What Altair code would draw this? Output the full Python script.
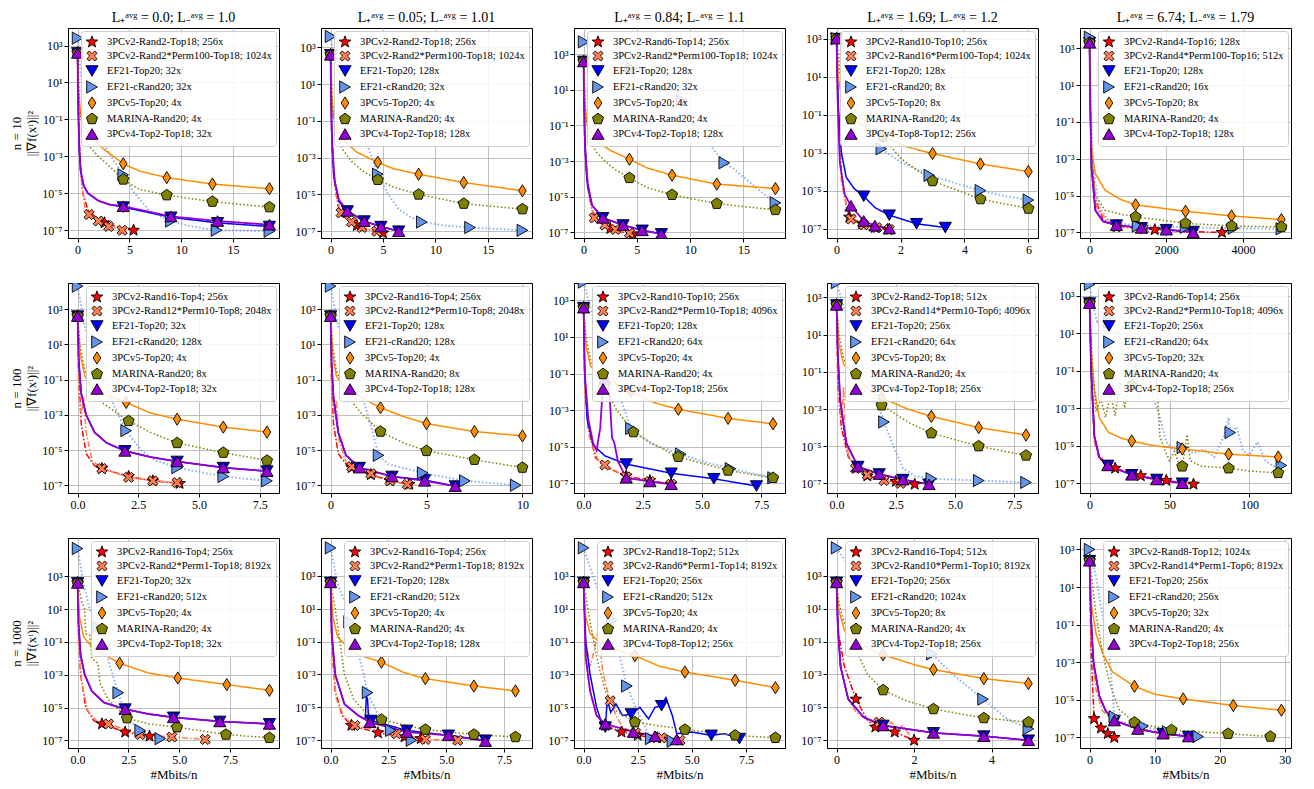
import altair as alt
import pandas as pd
import numpy as np

FONT = "Liberation Serif"
COLORS = ["#ff0000", "#ff7f50", "#0000ff", "#6495ed", "#ff8c00", "#808000", "#9400d3"]
STYLES = ["dashdot", "dashdot", "solid", "dotted", "solid", "dotted", "solid"]
WIDTHS = [1.5, 1.5, 1.5, 2.0, 1.5, 1.5, 1.8]
OPAC = [1, 1, 1, 0.75, 1, 1, 1]
N_ROWS = ["10", "100", "1000"]
L_PLUS = ["0.0", "0.05", "0.84", "1.69", "6.74"]
L_MINUS = ["1.0", "1.01", "1.1", "1.2", "1.79"]

# ---- legends ----
LEG_R1 = [
    ["3PCv2-Rand2-Top18; 256x", "3PCv2-Rand2*Perm100-Top18; 1024x", "EF21-Top20; 32x", "EF21-cRand20; 32x", "3PCv5-Top20; 4x", "MARINA-Rand20; 4x", "3PCv4-Top2-Top18; 32x"],
    ["3PCv2-Rand2-Top18; 256x", "3PCv2-Rand2*Perm100-Top18; 1024x", "EF21-Top20; 128x", "EF21-cRand20; 32x", "3PCv5-Top20; 4x", "MARINA-Rand20; 4x", "3PCv4-Top2-Top18; 128x"],
    ["3PCv2-Rand6-Top14; 256x", "3PCv2-Rand2*Perm100-Top18; 1024x", "EF21-Top20; 128x", "EF21-cRand20; 32x", "3PCv5-Top20; 4x", "MARINA-Rand20; 4x", "3PCv4-Top2-Top18; 128x"],
    ["3PCv2-Rand10-Top10; 256x", "3PCv2-Rand16*Perm100-Top4; 1024x", "EF21-Top20; 128x", "EF21-cRand20; 8x", "3PCv5-Top20; 8x", "MARINA-Rand20; 4x", "3PCv4-Top8-Top12; 256x"],
    ["3PCv2-Rand4-Top16; 128x", "3PCv2-Rand4*Perm100-Top16; 512x", "EF21-Top20; 128x", "EF21-cRand20; 16x", "3PCv5-Top20; 8x", "MARINA-Rand20; 4x", "3PCv4-Top2-Top18; 128x"],
]
LEG_R2 = [
    ["3PCv2-Rand16-Top4; 256x", "3PCv2-Rand12*Perm10-Top8; 2048x", "EF21-Top20; 32x", "EF21-cRand20; 128x", "3PCv5-Top20; 4x", "MARINA-Rand20; 8x", "3PCv4-Top2-Top18; 32x"],
    ["3PCv2-Rand16-Top4; 256x", "3PCv2-Rand12*Perm10-Top8; 2048x", "EF21-Top20; 128x", "EF21-cRand20; 128x", "3PCv5-Top20; 4x", "MARINA-Rand20; 8x", "3PCv4-Top2-Top18; 128x"],
    ["3PCv2-Rand10-Top10; 256x", "3PCv2-Rand2*Perm10-Top18; 4096x", "EF21-Top20; 128x", "EF21-cRand20; 64x", "3PCv5-Top20; 4x", "MARINA-Rand20; 4x", "3PCv4-Top2-Top18; 256x"],
    ["3PCv2-Rand2-Top18; 512x", "3PCv2-Rand14*Perm10-Top6; 4096x", "EF21-Top20; 256x", "EF21-cRand20; 64x", "3PCv5-Top20; 8x", "MARINA-Rand20; 4x", "3PCv4-Top2-Top18; 256x"],
    ["3PCv2-Rand6-Top14; 256x", "3PCv2-Rand2*Perm10-Top18; 4096x", "EF21-Top20; 256x", "EF21-cRand20; 64x", "3PCv5-Top20; 32x", "MARINA-Rand20; 4x", "3PCv4-Top2-Top18; 256x"],
]
LEG_R3 = [
    ["3PCv2-Rand16-Top4; 256x", "3PCv2-Rand2*Perm1-Top18; 8192x", "EF21-Top20; 32x", "EF21-cRand20; 512x", "3PCv5-Top20; 4x", "MARINA-Rand20; 4x", "3PCv4-Top2-Top18; 32x"],
    ["3PCv2-Rand16-Top4; 256x", "3PCv2-Rand2*Perm1-Top18; 8192x", "EF21-Top20; 128x", "EF21-cRand20; 512x", "3PCv5-Top20; 4x", "MARINA-Rand20; 4x", "3PCv4-Top2-Top18; 128x"],
    ["3PCv2-Rand18-Top2; 512x", "3PCv2-Rand6*Perm1-Top14; 8192x", "EF21-Top20; 256x", "EF21-cRand20; 512x", "3PCv5-Top20; 4x", "MARINA-Rand20; 4x", "3PCv4-Top8-Top12; 256x"],
    ["3PCv2-Rand16-Top4; 512x", "3PCv2-Rand10*Perm1-Top10; 8192x", "EF21-Top20; 256x", "EF21-cRand20; 1024x", "3PCv5-Top20; 8x", "MARINA-Rand20; 4x", "3PCv4-Top2-Top18; 256x"],
    ["3PCv2-Rand8-Top12; 1024x", "3PCv2-Rand14*Perm1-Top6; 8192x", "EF21-Top20; 256x", "EF21-cRand20; 256x", "3PCv5-Top20; 32x", "MARINA-Rand20; 4x", "3PCv4-Top2-Top18; 256x"],
]

# ---- axes per panel ----
XMAX = [18.5, 18.3, 18.0, 6.0, 5000, 7.9, 10.0, 8.1, 8.1, 120, 9.44, 8.3, 8.86, 4.95, 29.5]
XTICKS = [[0, 5, 10, 15], [0, 5, 10, 15], [0, 5, 10, 15], [0, 2, 4, 6], [0, 2000, 4000],
          [0, 2.5, 5, 7.5], [0, 5, 10], [0, 2.5, 5, 7.5], [0, 2.5, 5, 7.5], [0, 50, 100],
          [0, 2.5, 5, 7.5], [0, 2.5, 5, 7.5], [0, 2.5, 5, 7.5], [0, 2, 4], [0, 10, 20, 30]]
XFMT = ["d", "d", "d", "d", "d", ".1f", "d", ".1f", ".1f", "d", ".1f", ".1f", ".1f", "d", "d"]
YDOM = [[-7.42, 3.95], [-7.37, 4.06], [-7.33, 4.48], [-7.5, 3.56], [-7.3, 4.1],
        [-7.44, 4.48], [-7.44, 4.48], [-7.53, 3.95], [-7.52, 3.78], [-7.52, 3.67],
        [-7.47, 5.34], [-7.47, 5.3], [-7.47, 5.3], [-7.47, 5.3], [-7.56, 3.61]]
YTICKS = [1e3, 1e1, 1e-1, 1e-3, 1e-5, 1e-7]

# ---- series: [x, log10(y)] ; a third element 1 marks a marker point ----
# order: red 3PCv2, coral 3PCv2-Perm, EF21, EF21-cRand, 3PCv5, MARINA, 3PCv4
P11 = [
    [[0, 2.6, 1], [0.1, -1], [0.25, -3.5], [0.5, -5], [1, -5.9], [1.8, -6.3], [2.6, -6.6, 1], [4, -6.85], [5.4, -7.0, 1]],
    [[0, 2.6, 1], [0.15, -2], [0.4, -4.5], [0.7, -5.7], [1.1, -6.15, 1], [2.0, -6.5, 1], [3.0, -6.8, 1], [4.3, -7.0, 1]],
    [[0, 2.6, 1], [0.05, 0], [0.15, -2.5], [0.3, -3.8], [0.6, -4.6], [1, -5.0], [2, -5.4], [3, -5.6], [4.4, -5.75, 1], [9, -6.3, 1], [13.5, -6.6, 1], [18.5, -6.8, 1]],
    [[0, 3.4, 1], [0.3, 1.5], [0.7, 0.2], [1.2, -0.8], [2, -1.8], [3, -2.8], [4.4, -4.0, 1], [5.5, -5.0], [7, -6.0], [9, -6.5, 1], [11, -6.8], [13.4, -7.0, 1], [18.5, -7.05, 1]],
    [[0, 2.6, 1], [0.1, 0.5], [0.3, -0.8], [0.8, -1.6], [1.5, -2.1], [2.5, -2.6], [4.4, -3.4, 1], [6, -3.8], [8.6, -4.15, 1], [13, -4.5, 1], [18.5, -4.75, 1]],
    [[0, 2.6, 1], [0.2, -0.5], [0.6, -1.8], [1.2, -2.5], [2, -3.0], [3, -3.5], [4.4, -4.25, 1], [6, -4.8], [8.6, -5.1, 1], [13, -5.45, 1], [18.5, -5.75, 1]],
    [[0, 2.6, 1], [0.05, 0], [0.15, -2.5], [0.3, -3.8], [0.6, -4.6], [1, -5.0], [2, -5.4], [3, -5.6], [4.4, -5.7, 1], [9, -6.25, 1], [13.5, -6.5, 1], [18.5, -6.7, 1]],
]
P12 = [
    [[0, 2.6, 1], [0.1, -1.5], [0.3, -4], [0.7, -5.6], [1.2, -6.2], [2.5, -6.7, 1], [3.8, -6.95], [5, -7.1, 1]],
    [[0, 2.6, 1], [0.15, -2], [0.5, -5], [1.0, -6.0, 1], [2.0, -6.5, 1], [3.0, -6.8, 1], [4.4, -7.0, 1]],
    [[0, 2.6, 1], [0.1, -1.5], [0.3, -4], [0.8, -5.4], [1.6, -5.9, 1], [3.2, -6.45, 1], [4.8, -6.75, 1], [6.5, -7.0, 1]],
    [[0, 3.6, 1], [0.3, 2.5], [0.8, 1.5], [1.5, 0.5], [2.5, -0.8], [3.5, -2.3], [4.5, -3.9, 1], [5.5, -5], [6.5, -5.8], [7.5, -6.2], [8.7, -6.5, 1], [11, -6.7], [13.3, -6.8, 1], [18.3, -6.95, 1]],
    [[0, 2.6, 1], [0.1, 0.5], [0.3, -0.8], [0.8, -1.6], [1.5, -2.2], [2.5, -2.7], [4.5, -3.25, 1], [6, -3.6], [8.4, -3.9, 1], [12.7, -4.35, 1], [18.3, -4.8, 1]],
    [[0, 2.6, 1], [0.2, -0.5], [0.6, -1.8], [1.2, -2.6], [2, -3.2], [3, -3.7], [4.5, -4.2, 1], [6, -4.6], [8.4, -5.0, 1], [12.7, -5.5, 1], [18.3, -5.8, 1]],
    [[0, 2.6, 1], [0.05, 0], [0.15, -2.5], [0.4, -4.3], [0.8, -5.3], [1.6, -5.9, 1], [3.2, -6.45, 1], [4.8, -6.75, 1], [6.5, -7.0, 1]],
]
P13 = [
    [[0, 2.6, 1], [0.1, -1.5], [0.3, -4], [0.8, -5.8], [1.5, -6.4], [2.5, -6.8, 1], [3.7, -7.0], [4.6, -7.1, 1]],
    [[0, 2.6, 1], [0.15, -2], [0.5, -5], [1.0, -6.2, 1], [2.0, -6.6, 1], [3.0, -6.85, 1], [4.3, -7.05, 1]],
    [[0, 2.6, 1], [0.1, -1.5], [0.3, -4], [0.8, -5.5], [1.8, -6.2, 1], [3.7, -6.6, 1], [5.5, -6.9, 1], [7.3, -7.1, 1]],
    [[0, 3.7, 1], [1, 3.2], [2.5, 2.8], [4.5, 2.2, 1], [6, 1.8], [7.5, 1.0], [9.2, 0.4, 1], [10, -0.5], [11, -1.5], [11.5, -1.2], [12, -2.2], [13.2, -3.1, 1], [14, -3.4], [15, -3.9], [16, -4.4], [17, -4.9], [18, -5.35, 1]],
    [[0, 2.6, 1], [0.1, 0.5], [0.3, -0.8], [0.8, -1.5], [1.5, -2.0], [2.5, -2.4], [4.3, -2.9, 1], [6, -3.4], [8.3, -3.8, 1], [12.5, -4.3, 1], [18, -4.55, 1]],
    [[0, 2.6, 1], [0.2, -0.5], [0.6, -1.8], [1.2, -2.5], [2, -3.0], [3, -3.5], [4.3, -3.95, 1], [6, -4.5], [8.3, -4.9, 1], [12.5, -5.4, 1], [18, -5.75, 1]],
    [[0, 2.6, 1], [0.05, 0], [0.15, -2.5], [0.4, -4.5], [0.8, -5.5], [1.8, -6.2, 1], [3.7, -6.6, 1], [5.5, -6.9, 1], [7.3, -7.1, 1]],
]
P14 = [
    [[0, 3.0, 1], [0.05, -1], [0.15, -4], [0.3, -5.8], [0.4, -6.4, 1], [0.8, -6.75, 1], [1.2, -6.95, 1], [1.6, -7.05, 1]],
    [[0, 3.0, 1], [0.05, -1.5], [0.15, -4.5], [0.35, -6.2], [0.45, -6.5, 1], [0.85, -6.8, 1], [1.25, -6.95, 1], [1.65, -7.05, 1]],
    [[0, 3.0, 1], [0.05, -0.5], [0.15, -3], [0.3, -4.3], [0.55, -4.9], [0.85, -5.3, 1], [1.2, -5.9], [1.65, -6.3, 1], [2.5, -6.75, 1], [3.4, -6.95, 1]],
    [[0, 3.0, 1], [0.1, 1.8], [0.3, 0.3], [0.6, -0.8], [1.0, -1.8], [1.4, -2.8, 1], [2, -3.5], [2.9, -4.2, 1], [3.7, -4.6], [4.5, -5.0, 1], [5.3, -5.3], [6.0, -5.5, 1]],
    [[0, 3.0, 1], [0.05, 1], [0.2, -0.5], [0.5, -1.2], [1, -1.8], [1.45, -2.15, 1], [2.2, -2.7], [3.0, -3.05, 1], [4.5, -3.6, 1], [6.0, -4.0, 1]],
    [[0, 3.0, 1], [0.1, 1.2], [0.3, 0], [0.6, -0.8], [1, -1.5], [1.45, -2.15, 1], [2, -3.3], [3.0, -4.5, 1], [3.8, -5.0], [4.5, -5.45, 1], [6.0, -5.95, 1]],
    [[0, 3.0, 1], [0.03, 0], [0.1, -3.5], [0.25, -5.2], [0.45, -5.8, 1], [0.85, -6.6, 1], [1.2, -6.85, 1], [1.65, -7.0, 1]],
]
P15 = [
    [[0, 3.3, 1], [20, 0], [60, -3], [150, -5.2], [350, -6.3], [700, -6.65], [1700, -6.85, 1], [2600, -6.95], [3450, -7.0, 1]],
    [[0, 3.3, 1], [20, -0.5], [70, -3.5], [200, -5.8], [700, -6.7, 1], [1400, -6.8, 1], [2000, -6.85, 1], [2700, -7.0, 1]],
    [[0, 3.3, 1], [15, 0], [50, -3.5], [150, -5.8], [350, -6.4], [700, -6.6, 1], [1350, -6.75, 1], [2000, -6.85, 1], [2700, -6.95, 1]],
    [[0, 3.6, 1], [30, 0], [100, -3.5], [250, -5.6], [500, -6.4], [1250, -6.65, 1], [2500, -6.72, 1], [3750, -6.77, 1], [5000, -6.8, 1]],
    [[0, 3.3, 1], [10, 1], [50, -2.5], [150, -3.8], [400, -4.7], [800, -5.2], [1200, -5.5, 1], [2500, -5.85, 1], [3700, -6.1, 1], [5000, -6.3, 1]],
    [[0, 3.3, 1], [10, 0.5], [50, -3], [150, -5], [400, -5.8], [800, -6.0], [1200, -6.15, 1], [2500, -6.5, 1], [3700, -6.65, 1], [5000, -6.7, 1]],
    [[0, 3.3, 1], [15, 0], [50, -3.5], [150, -5.8], [350, -6.4], [700, -6.6, 1], [1350, -6.75, 1], [2000, -6.85, 1], [2700, -7.0, 1]],
]
P21 = [
    [[0, 2.6, 1], [0.05, -1], [0.15, -3.5], [0.35, -5.2], [0.7, -5.9], [1.0, -6.05, 1], [2.1, -6.5, 1], [3.1, -6.75, 1], [4.2, -6.9, 1]],
    [[0, 2.6, 1], [0.05, -2], [0.15, -3], [0.25, -2], [0.35, -4], [0.6, -5.6], [1.0, -6.05, 1], [2.1, -6.55, 1], [3.1, -6.75, 1], [4.1, -6.85, 1]],
    [[0, 2.6, 1], [0.05, 0], [0.15, -1.8], [0.35, -3], [0.7, -4.0], [1.2, -4.6], [1.95, -5.05, 1], [3, -5.4], [4.1, -5.65, 1], [6.0, -6.0, 1], [7.8, -6.2, 1]],
    [[0, 4.3, 1], [0.3, 2], [0.7, 0.3], [1.1, -1.0], [1.5, -2.5], [2.0, -3.9, 1], [2.6, -5.0], [3.2, -5.6], [4.1, -6.0, 1], [6.0, -6.5, 1], [7.8, -6.75, 1]],
    [[0, 2.6, 1], [0.1, 0.5], [0.3, -0.8], [0.6, -1.4], [1.0, -1.8], [2.0, -2.3, 1], [3, -2.9], [4.1, -3.25, 1], [6.0, -3.7, 1], [7.8, -3.98, 1]],
    [[0, 2.6, 1], [0.1, 1.0], [0.3, -0.5], [0.6, -1.5], [1.0, -2.3], [2.1, -3.35, 1], [3, -4.0], [4.1, -4.6, 1], [6.0, -5.15, 1], [7.8, -5.6, 1]],
    [[0, 2.6, 1], [0.05, 0], [0.15, -1.8], [0.35, -3], [0.7, -4.0], [1.2, -4.6], [1.95, -5.05, 1], [3, -5.4], [4.1, -5.65, 1], [6.0, -6.0, 1], [7.8, -6.2, 1]],
]
P22 = [
    [[0, 2.6, 1], [0.05, -1], [0.15, -3.5], [0.4, -5.2], [0.8, -5.8], [1.1, -6.0, 1], [2.1, -6.4, 1], [3.1, -6.75, 1], [4.1, -6.95, 1]],
    [[0, 2.6, 1], [0.05, -2], [0.2, -3], [0.3, -2.2], [0.45, -4.5], [0.8, -5.7], [1.1, -5.95, 1], [2.1, -6.35, 1], [3.1, -6.75, 1], [4.0, -6.95, 1], [4.5, -7.0]],
    [[0, 2.6, 1], [0.05, 0], [0.15, -2], [0.4, -4], [0.8, -5.3], [1.5, -6.0, 1], [3.2, -6.5, 1], [4.9, -6.7, 1], [6.5, -7.05, 1]],
    [[0, 4.3, 1], [0.4, 2], [0.9, 0.5], [1.4, -1.0], [1.8, -2.5], [2.2, -4.0], [2.5, -5.3, 1], [3, -5.8], [4.8, -6.3, 1], [7.0, -6.75, 1], [9.65, -7.0, 1]],
    [[0, 2.6, 1], [0.1, 0.5], [0.3, -0.8], [0.7, -1.4], [1.2, -1.8], [2.6, -2.6, 1], [3.8, -3.1], [5.0, -3.5, 1], [7.5, -3.95, 1], [10, -4.2, 1]],
    [[0, 2.6, 1], [0.1, 1.0], [0.3, -0.5], [0.8, -1.8], [1.5, -2.8], [2.6, -3.95, 1], [3.8, -4.6], [5.0, -5.05, 1], [7.5, -5.55, 1], [10, -6.0, 1]],
    [[0, 2.6, 1], [0.05, 0], [0.15, -2], [0.4, -4], [0.8, -5.3], [1.5, -6.0, 1], [3.2, -6.5, 1], [4.9, -6.75, 1], [6.5, -7.05, 1]],
]
P23 = [
    [[0, 2.6, 1], [0.05, -1.5], [0.2, -4], [0.5, -5.6], [0.9, -6.1], [1.8, -6.6, 1], [2.8, -6.85, 1], [3.7, -7.05, 1]],
    [[0, 2.6, 1], [0.05, -2], [0.25, -4.5], [0.6, -5.7], [0.9, -6.0, 1], [1.8, -6.65, 1], [2.8, -6.9, 1], [3.7, -7.05, 1]],
    [[0, 2.6, 1], [0.05, -1], [0.15, -3.5], [0.4, -4.9], [0.9, -5.5], [1.8, -5.95, 1], [3.7, -6.45, 1], [5.5, -6.75, 1], [7.3, -7.15, 1]],
    [[0, 4.0, 1], [0.3, 2.5], [0.7, 1], [1.2, -1], [1.6, -2.5], [2.0, -4.0, 1], [2.8, -4.8], [4.1, -5.4, 1], [5, -5.8], [6.2, -6.2, 1], [8.0, -6.7, 1]],
    [[0, 2.6, 1], [0.1, 0.5], [0.3, -0.6], [0.8, -1.3], [1.3, -1.5], [2.0, -1.95, 1], [3, -2.6], [4.0, -2.95, 1], [6.1, -3.45, 1], [8.0, -3.75, 1]],
    [[0, 2.6, 1], [0.1, 1.0], [0.3, -0.3], [0.8, -1.5], [1.4, -3], [2.1, -4.2, 1], [3, -4.9], [4.0, -5.55, 1], [6.1, -6.3, 1], [8.0, -6.7, 1]],
    [[0, 2.6, 1], [0.05, -1], [0.2, -3.5], [0.4, -4.8], [0.55, -5.2], [0.7, -4], [0.8, -2], [0.9, -1.3, 1], [1.0, -1.0], [1.1, -2.2], [1.2, -4.5], [1.3, -4.8], [1.45, -5.8], [1.8, -6.7, 1], [2.8, -6.9, 1], [3.7, -7.05, 1]],
]
P24 = [
    [[0, 2.6, 1], [0.05, -1.5], [0.2, -4], [0.5, -5.6], [0.9, -6.1], [1.3, -6.6, 1], [2.5, -6.9, 1], [3.3, -7.05, 1]],
    [[0, 2.6, 1], [0.1, -2.5], [0.2, -3.5], [0.3, -1.8], [0.35, -4], [0.5, -5.5], [0.8, -6.2, 1], [1.3, -6.55, 1], [2.0, -6.85, 1], [2.7, -7.0, 1]],
    [[0, 2.6, 1], [0.05, 0], [0.15, -2.5], [0.4, -4.8], [0.9, -6.1, 1], [1.8, -6.5, 1], [2.8, -6.8, 1], [3.9, -7.05, 1]],
    [[0, 3.8, 1], [0.3, 2.5], [0.7, 1], [1.2, -1], [1.6, -2.2], [2.0, -3.7, 1], [2.4, -5.0], [2.8, -6.2], [3.3, -6.6], [4.0, -6.75, 1], [6.0, -6.85, 1], [8.0, -6.95, 1]],
    [[0, 2.6, 1], [0.1, 0.5], [0.3, -0.6], [0.8, -1.3], [1.3, -1.9], [1.9, -2.4, 1], [3, -3.0], [4.0, -3.4, 1], [6.0, -4.0, 1], [8.0, -4.4, 1]],
    [[0, 2.6, 1], [0.1, 1.0], [0.3, -0.3], [0.8, -1.5], [1.3, -2.2], [1.9, -2.8, 1], [3, -3.7], [4.0, -4.3, 1], [6.0, -5.0, 1], [8.0, -5.5, 1]],
    [[0, 2.6, 1], [0.05, 0], [0.15, -2.5], [0.4, -4.8], [0.9, -6.1, 1], [1.8, -6.5, 1], [2.8, -6.8, 1], [3.9, -7.05, 1]],
]
P25 = [
    [[0, 2.6, 1], [1, -1], [3, -4.5], [6, -5.6], [16, -6.2, 1], [32, -6.6, 1], [48, -6.85, 1], [65, -7.05, 1]],
    [[0, 2.6, 1], [1, -1.5], [3, -4.8], [6, -5.7], [11.4, -6.05, 1], [26.4, -6.55, 1], [42, -6.8, 1], [58, -7.0, 1], [63, -7.05]],
    [[0, 2.6, 1], [1, -1], [3, -4.5], [6, -5.6], [11.4, -6.05, 1], [26.4, -6.55, 1], [42, -6.8, 1], [58, -7.0, 1]],
    [[0, 3.6, 1], [2, 2.5], [5, 1.5], [8, 2.2], [10, 1.0], [12, 1.6, 1], [15, 0.5], [18, 1.2], [21, -0.5], [24, 0.3], [27, -1.0], [30, -0.3], [33, -1.5], [36, -0.8], [40, -2.5], [44, -3.5], [48, -4.8], [52, -5.2], [58, -5.1, 1], [65, -5.4], [72, -5.2], [78, -5.6], [84, -4.5], [87, -3.5], [88, -4.3, 1], [92, -4.0], [96, -5.3], [100, -5.5], [105, -4.8], [110, -5.8], [115, -6.1], [120, -6.05, 1]],
    [[0, 2.6, 1], [1, 0], [3, -2], [6, -3.5], [12, -4.3], [20, -4.6], [26.4, -4.75, 1], [40, -5.0], [58, -5.17, 1], [87, -5.45, 1], [118, -5.6, 1]],
    [[0, 2.6, 1], [2, -1], [4, -3.2], [7, -2.5], [10, -3.5], [13, -2.2], [16, -3.4], [19, -1.5], [22, -3.0], [25, -1.2], [26.4, -1.8, 1], [29, -0.6], [31, -2.5], [34, -1.5], [37, -0.9], [39, -2.2], [42, -1.5], [44, -4.5], [47, -5.2], [50, -5.8], [53, -5.3], [56, -6.0], [58, -6.1, 1], [61, -4.4], [63, -5.8], [70, -6.1], [80, -6.15], [87, -6.2, 1], [100, -6.35], [118, -6.45, 1]],
    [[0, 2.6, 1], [1, -1], [3, -4.5], [6, -5.6], [11.4, -6.05, 1], [26.4, -6.55, 1], [42, -6.8, 1], [58, -7.0, 1]],
]
P31 = [
    [[0, 2.6, 1], [0.05, -0.5], [0.15, -3], [0.4, -5], [0.8, -5.8], [1.2, -6.0, 1], [2.34, -6.5, 1], [3.54, -6.75, 1], [4.0, -6.9]],
    [[0, 2.6, 1], [0.05, -1], [0.2, -3.5], [0.5, -5.2], [1.0, -5.9], [1.52, -6.0, 1], [3.08, -6.65, 1], [4.64, -6.8, 1], [6.28, -6.95, 1]],
    [[0, 2.6, 1], [0.05, 0], [0.15, -1.8], [0.35, -3], [0.7, -4.0], [1.3, -4.7], [2.34, -5.1, 1], [3.5, -5.4], [4.72, -5.6, 1], [7.0, -5.85, 1], [9.44, -6.0, 1]],
    [[0, 4.7, 1], [0.3, 2.5], [0.6, 1.0], [0.95, -0.1, 1], [1.3, -1.2], [1.6, -2.5], [2.0, -4.1, 1], [2.4, -5.6], [3.08, -6.4, 1], [4.07, -6.9, 1]],
    [[0, 2.6, 1], [0.1, 0.5], [0.3, -0.7], [0.7, -1.3], [1.2, -1.7], [2.07, -2.3, 1], [3.5, -2.9], [4.93, -3.2, 1], [7.34, -3.6, 1], [9.44, -3.95, 1]],
    [[0, 2.6, 1], [0.2, 1.5], [0.35, 1.0], [0.4, -0.5], [0.6, -0.6], [0.7, -2.0], [1.0, -2.3], [1.1, -3.5], [1.5, -4.5], [2.43, -5.65, 1], [3.5, -6.0], [4.89, -6.2, 1], [7.3, -6.65, 1], [9.44, -6.85, 1]],
    [[0, 2.6, 1], [0.05, 0], [0.15, -1.8], [0.35, -3], [0.7, -4.0], [1.3, -4.7], [2.34, -5.1, 1], [3.5, -5.4], [4.72, -5.6, 1], [7.0, -5.85, 1], [9.44, -6.0, 1]],
]
P32 = [
    [[0, 2.6, 1], [0.05, -1], [0.2, -4], [0.5, -5.5], [0.9, -6.1, 1], [2.05, -6.55, 1], [3.2, -6.8, 1], [3.9, -6.9, 1]],
    [[0, 2.6, 1], [0.05, -1.5], [0.25, -4.5], [0.6, -5.6], [1.05, -6.1, 1], [2.85, -6.6, 1], [4.1, -6.95, 1], [5.5, -7.0, 1]],
    [[0, 2.6, 1], [0.05, -0.5], [0.2, -3], [0.6, -4.8], [1.2, -5.5], [1.5, -5.7], [1.55, -4.3], [1.6, -4.5], [1.65, -5.9], [1.75, -5.8, 1], [3.3, -6.4, 1], [5.1, -6.7, 1], [6.7, -7.0, 1]],
    [[0, 4.7, 1], [0.3, 2.5], [0.6, 1.5], [0.8, 0.2, 1], [1.1, -1.2], [1.4, -2.8], [1.6, -4.1, 1], [2.0, -5.3], [2.6, -6.4, 1], [3.5, -7.0, 1]],
    [[0, 2.6, 1], [0.1, 0.5], [0.3, -0.7], [0.7, -1.3], [1.2, -1.8], [2.2, -2.25, 1], [3.2, -2.9], [4.1, -3.25, 1], [6.2, -3.7, 1], [8.0, -4.0, 1]],
    [[0, 2.6, 1], [0.2, 1], [0.4, -1], [0.6, -3], [1.0, -4.5], [1.5, -5.3], [2.2, -5.75, 1], [4.1, -6.35, 1], [6.2, -6.65, 1], [8.0, -6.8, 1]],
    [[0, 2.6, 1], [0.05, -0.5], [0.2, -3], [0.6, -4.8], [1.2, -5.5], [1.7, -5.9, 1], [3.3, -6.5, 1], [5.1, -6.7, 1], [6.7, -7.05, 1]],
]
P33 = [
    [[0, 2.6, 1], [0.1, -2], [0.3, -4], [0.6, -5.5], [1.0, -6.1, 1], [1.75, -6.5, 1], [2.5, -6.7, 1], [3.4, -6.85, 1]],
    [[0, 2.6, 1], [0.1, -1], [0.3, -2.5], [0.5, -1.5], [0.65, -0.5], [0.75, -1.0], [0.85, -2.5], [1.0, -3.5], [1.23, -4.6, 1], [1.5, -5.5], [1.8, -6.2], [2.4, -6.55, 1], [3.6, -6.85, 1], [4.45, -7.0, 1]],
    [[0, 2.6, 1], [0.1, -1], [0.3, -3], [0.6, -5], [0.9, -6.2], [1.0, -6.2, 1], [1.1, -4.5], [1.25, -5.3], [1.5, -4.8], [1.8, -5.5], [2.2, -5.4, 1], [2.6, -5.0], [3.0, -5.7], [3.3, -5.0], [3.6, -4.9, 1], [3.8, -4.4], [4.1, -5.5], [4.3, -6.6], [5.0, -6.5], [5.9, -6.7, 1], [6.5, -6.6], [7.2, -6.9, 1]],
    [[0, 4.7, 1], [0.3, 3.5], [0.7, 2.0], [1.3, 0.3, 1], [1.6, -1.5], [2.0, -3.7, 1], [2.4, -5.0], [3.1, -6.9, 1], [4.1, -7.05, 1]],
    [[0, 2.6, 1], [0.1, 0.5], [0.3, -0.5], [0.7, -1.0], [1.3, -1.4], [2.37, -1.85, 1], [3.5, -2.5], [4.68, -2.85, 1], [7.0, -3.35, 1], [8.86, -3.8, 1]],
    [[0, 2.6, 1], [0.2, 1], [0.4, -0.5], [0.7, -2.5], [1.0, -4.0], [1.5, -5.2], [2.37, -5.9, 1], [4.68, -6.35, 1], [7.0, -6.7, 1], [8.86, -6.85, 1]],
    [[0, 2.6, 1], [0.1, -2], [0.3, -4], [0.6, -5.5], [1.0, -6.0, 1], [2.3, -6.5, 1], [3.3, -6.75, 1], [4.3, -6.95, 1]],
]
P34 = [
    [[0, 2.6, 1], [0.05, -0.5], [0.2, -2.5], [0.5, -4.5, 1], [0.8, -5.8], [1.0, -6.2, 1], [1.5, -6.5, 1], [2.0, -7.0, 1]],
    [[0, 2.6, 1], [0.05, -1], [0.15, -3], [0.3, -4.5], [0.5, -5.3], [0.7, -5.6], [0.9, -5.9], [1.1, -5.9, 1], [1.3, -6.2], [1.4, -5.9], [1.6, -6.3], [1.7, -6.1], [1.9, -6.7]],
    [[0, 2.6, 1], [0.03, 0], [0.1, -2.5], [0.3, -4.5], [0.7, -5.6], [1.2, -6.1, 1], [2.5, -6.55, 1], [3.8, -6.75, 1], [4.95, -7.0, 1]],
    [[0, 4.7, 1], [0.2, 4], [0.5, 3.2], [1.0, 1.8], [1.5, 0.5], [2.0, -0.8], [2.46, -1.75, 1], [3.0, -3.0], [3.78, -4.5, 1], [4.4, -5.7], [4.95, -6.3, 1]],
    [[0, 2.6, 1], [0.05, 1], [0.2, -0.3], [0.5, -1.0], [0.8, -1.4], [1.2, -1.8, 1], [2.0, -2.4], [2.5, -2.7, 1], [3.8, -3.25, 1], [4.95, -3.55, 1]],
    [[0, 2.6, 1], [0.05, 1.5], [0.15, 0.5], [0.3, -0.5], [0.5, -1.5], [0.8, -3], [1.2, -3.95, 1], [1.8, -4.6], [2.5, -5.1, 1], [3.8, -5.65, 1], [4.95, -5.9, 1]],
    [[0, 2.6, 1], [0.03, 0], [0.1, -2.5], [0.3, -4.5], [0.7, -5.6], [1.2, -6.1, 1], [2.5, -6.55, 1], [3.8, -6.75, 1], [4.95, -7.0, 1]],
]
P35 = [
    [[0, 2.4, 1], [0.2, -2], [0.5, -4.5], [0.7, -6.0, 1], [1.2, -6.3], [1.75, -6.5, 1], [2.8, -6.8, 1], [3.8, -7.0, 1]],
    [[0, 2.4, 1], [0.3, -2], [1, -4.5], [2, -5.6], [3.8, -6.1, 1], [7.6, -6.5, 1], [11.5, -6.8, 1], [15.5, -6.95, 1]],
    [[0, 2.4, 1], [0.2, -0.5], [0.6, -3], [1.5, -4.8], [2.5, -5.6], [3.8, -6.1, 1], [7.4, -6.55, 1], [11.3, -6.8, 1], [15.2, -6.95, 1]],
    [[0, 3.0, 1], [1, 1.5], [2, -0.5], [3, -2.5], [3.5, -4.5], [3.8, -5.9, 1], [5, -6.2], [8.2, -6.4, 1], [12, -6.7, 1], [16.7, -6.95, 1]],
    [[0, 2.4, 1], [0.3, 0], [1, -1.5], [2, -2.5], [3.5, -3.5], [6.9, -4.28, 1], [10, -4.7], [14.4, -4.95, 1], [22.1, -5.3, 1], [29.5, -5.55, 1]],
    [[0, 2.4, 1], [0.5, 1], [1, -0.5], [2, -2.5], [3, -4], [4.5, -5.5], [6.9, -6.2, 1], [12.6, -6.6, 1], [21.3, -6.8, 1], [27.8, -6.95, 1]],
    [[0, 2.4, 1], [0.2, -0.5], [0.6, -3], [1.5, -4.8], [2.5, -5.6], [3.8, -6.1, 1], [7.4, -6.55, 1], [11.3, -6.8, 1], [15.2, -6.95, 1]],
]

PANELS = [P11, P12, P13, P14, P15, P21, P22, P23, P24, P25, P31, P32, P33, P34, P35]
LEGENDS = LEG_R1 + LEG_R2 + LEG_R3


# ---- marker shapes (unit-box SVG paths) ----
def poly(pts):
    return "M" + "L".join(f"{x:.3f},{y:.3f}" for x, y in pts) + "Z"


_a = np.deg2rad(-90 + 36 * np.arange(10))
_r = np.where(np.arange(10) % 2 == 0, 1.0, 0.42)
STAR = poly(zip(_r * np.cos(_a), _r * np.sin(_a)))
_p = np.deg2rad(-90 + 72 * np.arange(5))
PENT = poly(zip(np.cos(_p) * 0.95, np.sin(_p) * 0.95))
_w = 0.3
_plus = [(-_w, -1), (_w, -1), (_w, -_w), (1, -_w), (1, _w), (_w, _w), (_w, 1), (-_w, 1), (-_w, _w), (-1, _w), (-1, -_w), (-_w, -_w)]
_c, _s = np.cos(np.pi / 4), np.sin(np.pi / 4)
XSHAPE = poly([((x * _c - y * _s) * 0.9, (x * _s + y * _c) * 0.9) for x, y in _plus])
DIAMOND = "M0,-1L0.62,0L0,1L-0.62,0Z"
SHAPES = [STAR, XSHAPE, "triangle-down", "triangle-right", DIAMOND, PENT, "triangle-up"]

SUP = ("'10' + (log(datum.value) / LN10 < -0.5 ? '\u207b' : '') + "
       "['\u2070','\u00b9','\u00b2','\u00b3','\u2074','\u2075','\u2076','\u2077','\u2078','\u2079']"
       "[abs(round(log(datum.value) / LN10))]")

W, H = 211, 210


def panel(idx):
    r, c = divmod(idx, 5)
    labels = LEGENDS[idx]
    rows = []
    for k, series in enumerate(PANELS[idx]):
        for j, p in enumerate(series):
            rows.append({"x": p[0], "y": 10.0 ** p[1], "mk": 1 if len(p) > 2 else 0,
                         "s": labels[k], "k": k, "o": j, "st": STYLES[k], "col": COLORS[k],
                         "sw": WIDTHS[k], "op": OPAC[k]})
    df = pd.DataFrame(rows)
    lo, hi = YDOM[idx]
    M = XMAX[idx]
    xaxis = alt.Axis(values=XTICKS[idx], format=XFMT[idx],
                     title="#Mbits/n" if r == 2 else None)
    yaxis = alt.Axis(values=YTICKS, labelExpr=SUP,
                     title=[f"n = {N_ROWS[r]}", "||\u2207f(x\u1d57)||\u00b2"] if c == 0 else None)
    base = alt.Chart(df).encode(
        x=alt.X("x:Q", scale=alt.Scale(domain=[-0.05 * M, 1.05 * M], nice=False, zero=False), axis=xaxis),
        y=alt.Y("y:Q", scale=alt.Scale(type="log", domain=[10 ** lo, 10 ** hi], nice=False), axis=yaxis),
    )
    cs = alt.Scale(domain=labels, range=COLORS)
    leg = alt.Legend(title=None, orient="top-right", offset=3, labelFont=FONT, labelFontSize=10.5,
                     symbolSize=150, symbolStrokeWidth=0.9,
                     fillColor="rgba(255,255,255,0.85)", strokeColor="#cccccc", padding=4,
                     cornerRadius=3, rowPadding=0, labelLimit=300, symbolOpacity=1, labelOffset=8)
    lines = base.mark_line(clip=True).encode(
        color=alt.Color("col:N", scale=None),
        strokeDash=alt.StrokeDash("st:N", scale=alt.Scale(domain=["dashdot", "solid", "dotted"],
                                                          range=[[6, 2, 1.5, 2], [1, 0], [1.5, 2.2]]), legend=None),
        strokeWidth=alt.StrokeWidth("sw:Q", scale=None),
        opacity=alt.Opacity("op:Q", scale=None),
        detail="k:N",
        order="o:Q",
    )
    pts = base.transform_filter("datum.mk == 1").mark_point(
        filled=True, size=150, strokeWidth=0.9, opacity=1, clip=True
    ).encode(
        fill=alt.Fill("s:N", scale=cs, legend=leg),
        stroke=alt.Stroke("s:N", scale=alt.Scale(domain=labels, range=["#000000"] * 7), legend=leg),
        shape=alt.Shape("s:N", scale=alt.Scale(domain=labels, range=SHAPES), legend=leg),
        order="k:Q",
    )
    ch = alt.layer(lines, pts).properties(width=W, height=H)
    if r == 0:
        ch = ch.properties(title=f"L\u208a\u1d43\u1d5b\u1d4d = {L_PLUS[c]}; L\u208b\u1d43\u1d5b\u1d4d = {L_MINUS[c]}")
    return ch


def indep(ch):
    return ch.resolve_scale(fill="independent", stroke="independent", shape="independent",
                            strokeDash="independent", x="independent", y="independent"
                            ).resolve_legend(fill="independent", stroke="independent", shape="independent")


rows = [indep(alt.hconcat(*[panel(r * 5 + c) for c in range(5)], spacing=14)) for r in range(3)]
chart = indep(alt.vconcat(*rows, spacing=26)).properties(
    padding={"left": 2, "top": 2, "right": 2, "bottom": 2}
).configure(font=FONT).configure_axis(
    labelFont=FONT, titleFont=FONT, labelFontSize=12, titleFontSize=13, titleFontWeight="normal",
    labelColor="black", titleColor="black", gridColor="#b0b0b0", gridWidth=0.8,
    tickColor="black", domainColor="black", tickSize=4, labelPadding=2, titlePadding=3,
).configure_title(font=FONT, fontSize=14, fontWeight="normal", offset=3, color="black"
).configure_view(stroke="black", strokeWidth=1)

chart.save("out.html", embed_options={"renderer": "svg", "actions": False})
